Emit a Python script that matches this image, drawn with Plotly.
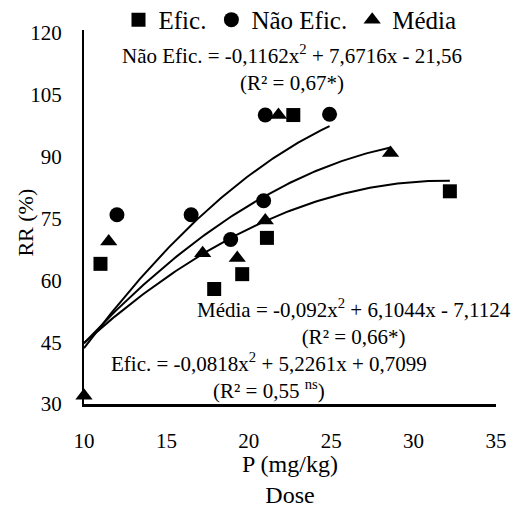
import numpy as np
import plotly.graph_objects as go

# Phosphorus dose (mg/kg) and relative response RR (%)
efic_x = [11.0, 17.9, 19.6, 21.1, 22.7, 32.2]
efic_y = [64.0, 57.9, 61.5, 70.3, 100.1, 81.6]

nao_x = [12.0, 16.5, 18.9, 20.9, 21.0, 24.9]
nao_y = [75.9, 75.9, 69.9, 79.3, 100.1, 100.3]

media_x = [10.0, 11.5, 17.2, 19.3, 21.0, 21.8, 28.6]
media_y = [32.0, 69.4, 66.6, 65.4, 74.5, 100.1, 90.9]

# Quadratic fits (a, b, c) for y = a*x^2 + b*x + c
efic_fit = (-0.0818, 5.2261, 0.7099)
nao_fit = (-0.1162, 7.6716, -21.56)
media_fit = (-0.092, 6.1044, -7.1124)

x_ticks = [10, 15, 20, 25, 30, 35]
y_ticks = [30, 45, 60, 75, 90, 105, 120]

FONT = "Liberation Serif"


def fit_curve(coef, x_end, x_start=10.0):
    a, b, c = coef
    xs = np.linspace(x_start, x_end, 120)
    return xs, a * xs ** 2 + b * xs + c


fig = go.Figure()

# Trend lines first so markers sit on top
for coef, xs_data in [(efic_fit, efic_x), (nao_fit, nao_x), (media_fit, media_x)]:
    cx, cy = fit_curve(coef, max(xs_data))
    fig.add_trace(go.Scatter(
        x=cx, y=cy, mode="lines", showlegend=False, hoverinfo="skip",
        line=dict(color="black", width=2),
    ))

fig.add_trace(go.Scatter(
    x=efic_x, y=efic_y, mode="markers", name="Efic.",
    marker=dict(symbol="square", size=14, color="black"), cliponaxis=False,
))
fig.add_trace(go.Scatter(
    x=nao_x, y=nao_y, mode="markers", name="Não Efic.",
    marker=dict(symbol="circle", size=15, color="black"), cliponaxis=False,
))
fig.add_trace(go.Scatter(
    x=media_x, y=media_y, mode="markers", name="Média",
    marker=dict(symbol="triangle-up", size=15, color="black"), cliponaxis=False,
))

eq_font = dict(family=FONT, size=21, color="black")
annotations = [
    dict(x=22.63, y=111.4,
         text="Não Efic. = -0,1162x<sup>2</sup> + 7,6716x - 21,56<br>(R² = 0,67*)"),
    dict(x=26.39, y=49.9,
         text="Média = -0,092x<sup>2</sup> + 6,1044x - 7,1124<br>(R² = 0,66*)"),
    dict(x=21.23, y=36.7,
         text="Efic. = -0,0818x<sup>2</sup> + 5,2261x + 0,7099<br>(R² = 0,55 <sup>ns</sup>)"),
]
for a in annotations:
    a.update(xref="x", yref="y", showarrow=False, font=eq_font,
             xanchor="center", yanchor="middle", align="center")

# Y-axis title
annotations.append(dict(
    text="RR (%)", xref="paper", yref="paper", x=-0.1408, y=0.485,
    xanchor="center", yanchor="middle", textangle=-90, showarrow=False,
    font=dict(family=FONT, size=22, color="black"),
))

fig.update_layout(
    width=518, height=508,
    margin=dict(l=84, r=22, t=30, b=104, autoexpand=False),
    paper_bgcolor="white", plot_bgcolor="white",
    font=dict(family=FONT, color="black"),
    showlegend=True,
    legend=dict(
        orientation="h", x=0.5, xanchor="center", y=1.027, yanchor="middle",
        font=dict(family=FONT, size=25, color="black"),
        itemwidth=30, tracegroupgap=0, bgcolor="rgba(0,0,0,0)",
    ),
    annotations=annotations,
    xaxis=dict(
        range=[10, 35], tickvals=x_ticks, ticktext=[str(v) for v in x_ticks],
        showgrid=False, zeroline=False, showline=True, linecolor="black",
        linewidth=3, ticks="outside", ticklen=16, tickcolor="rgba(0,0,0,0)",
        tickfont=dict(family=FONT, size=21, color="black"),
        title=dict(text="P (mg/kg)<br>Dose", font=dict(family=FONT, size=24, color="black"),
                   standoff=4),
        layer="below traces",
    ),
    yaxis=dict(
        range=[30, 120.73], tickvals=y_ticks, ticktext=[str(v) for v in y_ticks],
        showgrid=False, zeroline=False, showline=True, linecolor="black",
        linewidth=2, ticks="outside", ticklen=16, tickcolor="rgba(0,0,0,0)",
        tickfont=dict(family=FONT, size=21, color="black"),
        layer="below traces",
    ),
)

fig.write_html("out.html")
